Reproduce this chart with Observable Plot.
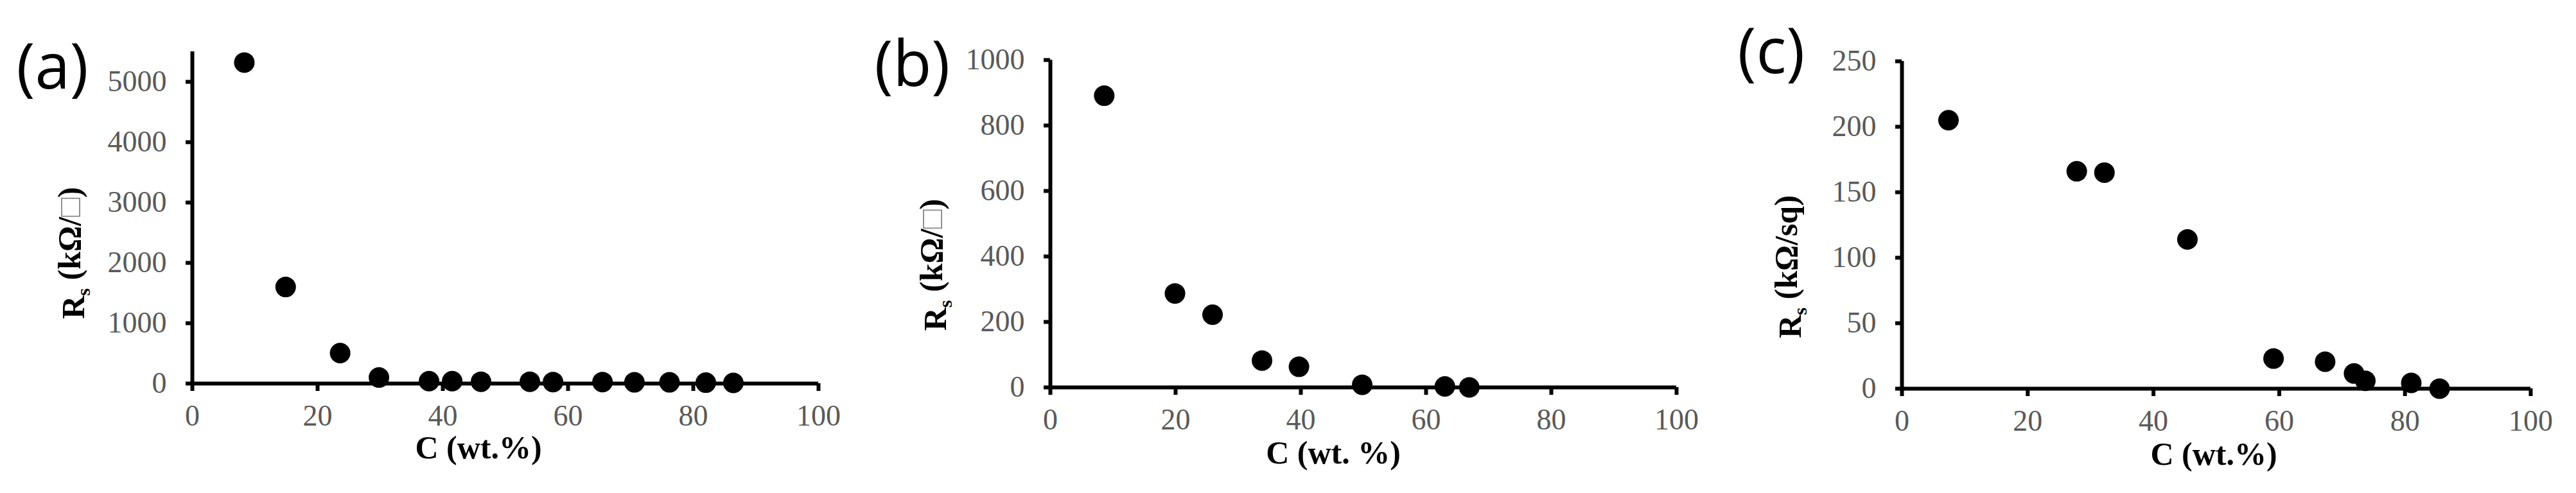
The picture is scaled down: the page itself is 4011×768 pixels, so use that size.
<!DOCTYPE html>
<html>
<head>
<meta charset="utf-8">
<script src="https://cdn.jsdelivr.net/npm/d3@7"></script>
<script src="https://cdn.jsdelivr.net/npm/@observablehq/plot@0.6"></script>
<style>
  html, body { margin: 0; padding: 0; background: #fff; }
  #wrap { display: flex; width: 4011px; height: 768px; }
  #wrap svg { display: block; }
</style>
</head>
<body>
<div id="wrap"></div>
<script>
// ---- data ----
const panelLabels = ["(a)", "(b)", "(c)"];
const xTitles = ["C (wt.%)", "C (wt. %)", "C (wt.%)"];
const yUnits = ["(kΩ/□)", "(kΩ/□)", "(kΩ/sq)"];
const xTicks = [0, 20, 40, 60, 80, 100];

const aC  = [8.3, 14.9, 23.6, 29.8, 37.8, 41.5, 46.1, 53.9, 57.6, 65.5, 70.6, 76.2, 82.0, 86.4];
const aRs = [5320, 1600, 505, 100, 40, 40, 30, 30, 25, 25, 20, 20, 15, 10];
const aYTicks = [0, 1000, 2000, 3000, 4000, 5000];

const bC  = [8.6, 19.9, 25.9, 33.8, 39.7, 49.8, 63.0, 66.9];
const bRs = [891, 287, 222, 82, 63, 8, 3, 0];
const bYTicks = [0, 200, 400, 600, 800, 1000];

const cC  = [7.4, 27.8, 32.2, 45.4, 59.1, 67.3, 71.9, 73.7, 81.0, 85.5];
const cRs = [205, 166, 165, 114, 23, 20.6, 11.6, 6, 4.4, 0];
const cYTicks = [0, 50, 100, 150, 200, 250];

// ---- layout per panel ----
const panels = [
  {C: aC, Rs: aRs, yTicks: aYTicks, yMax: 5500, m: [80, 63, 171, 299],
   lab: [25 - 299, 137 - 80], xt: [-42, 100], yt: [-169, 55]},
  {C: bC, Rs: bRs, yTicks: bYTicks, yMax: 1000, m: [93, 64, 165, 298],
   lab: [1361 - 1635, 133 - 93], xt: [-47, 102], yt: [-163, 64]},
  {C: cC, Rs: cRs, yTicks: cYTicks, yMax: 250, m: [95, 71, 163, 287],
   lab: [2705 - 2961, 113 - 95], xt: [-4, 102], yt: [-158, 65]}
];

const fmt = d => String(d);
const wrap = document.getElementById("wrap");
panels.forEach((p, i) => {
  const data = p.C.map((c, j) => ({C: c, Rs: p.Rs[j]}));
  const [mt, mr, mb, ml] = p.m;
  const chart = Plot.plot({
    width: 1337,
    height: 768,
    marginTop: mt, marginRight: mr, marginBottom: mb, marginLeft: ml,
    style: {fontFamily: "'Liberation Serif', 'Times New Roman', serif", fontSize: "46px", background: "#fff"},
    x: {domain: [0, 100]},
    y: {domain: [0, p.yMax]},
    marks: [
      Plot.axisX({ticks: xTicks, tickFormat: fmt, tickSize: 12, tickPadding: 21, strokeWidth: 6, stroke: "black",
                  fill: "#595959", label: null, fontSize: 46}),
      Plot.axisY({ticks: p.yTicks, tickFormat: fmt, tickSize: 10, tickPadding: 30, strokeWidth: 6, stroke: "black",
                  fill: "#595959", label: null, fontSize: 46}),
      Plot.ruleY([0], {stroke: "black", strokeWidth: 6}),
      Plot.ruleX([0], {stroke: "black", strokeWidth: 6}),
      Plot.dot(data, {x: "C", y: "Rs", r: 16, fill: "black", stroke: "none"}),
      Plot.text([panelLabels[i]], {frameAnchor: "top-left", textAnchor: "start", lineAnchor: "bottom",
        dx: p.lab[0], dy: p.lab[1], fontFamily: "'Open Sans', sans-serif", fontSize: 98, fill: "black"}),
      Plot.text([xTitles[i]], {frameAnchor: "bottom", textAnchor: "middle", lineAnchor: "middle",
        dx: p.xt[0], dy: p.xt[1], fontWeight: "bold", fontSize: 50, fill: "black"}),
      Plot.text(["Rs " + yUnits[i]], {frameAnchor: "left", textAnchor: "middle", lineAnchor: "bottom",
        rotate: -90, dx: p.yt[0], dy: p.yt[1], fontWeight: "bold", fontSize: 50, fill: "black",
        className: "ytitle"})
    ]
  });
  // subscript "s" and grey square in the y title
  d3.select(chart).selectAll(".ytitle text").each(function() {
    const t = d3.select(this);
    t.text(null);
    t.append("tspan").text("R");
    t.append("tspan").attr("font-size", "30").attr("dy", "0.3em").text("s");
    const unit = yUnits[i];
    const rest = t.append("tspan").attr("dy", "-0.3em");
    if (unit.includes("□")) {
      rest.text(" (kΩ/");
      t.append("tspan").attr("fill", "#8a8a8a").attr("font-weight", "normal").text("□");
      t.append("tspan").text(")");
    } else {
      rest.text(" " + unit);
    }
  });
  wrap.appendChild(chart);
});
</script>
</body>
</html>
